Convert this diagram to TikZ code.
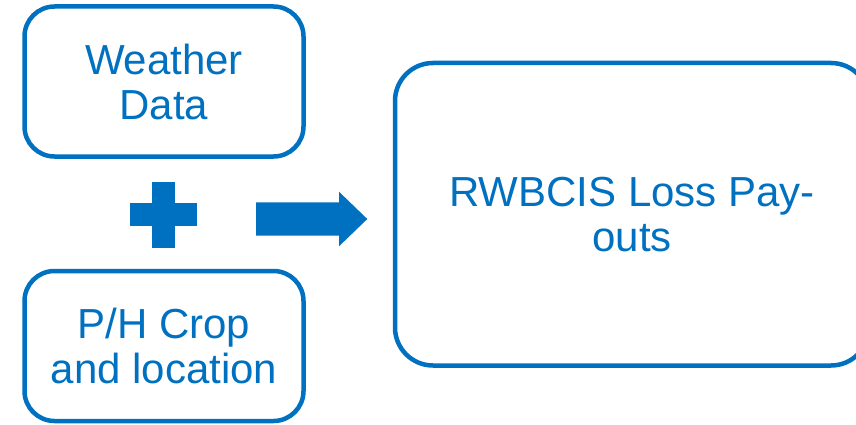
\documentclass[tikz,border=0pt]{standalone}
\usepackage{fontspec}
\setmainfont{Liberation Sans}
\usetikzlibrary{calc}
\definecolor{BoxBlue}{RGB}{0,112,192}

\begin{document}
\begin{tikzpicture}[x=1pt,y=-1pt,
  inputbox/.style={draw=BoxBlue,line width=4.5pt,rounded corners=30pt,
    minimum width=279pt,minimum height=150pt,align=center,text=BoxBlue,
    font=\fontsize{42}{45}\selectfont},
  resultbox/.style={inputbox,rounded corners=38pt,
    minimum width=474pt,minimum height=302.5pt}]

\useasboundingbox (0,0) rectangle (856,425);

\node[inputbox] (weather) at (164,81.5) {Weather\\Data};
\node[inputbox] (crop) at (164,346) {P/H Crop\\and location};
\node[resultbox] (payout) at (632,214.25) {RWBCIS Loss Pay-\\outs};

% Signo mas y flecha
\coordinate (P) at (163.7,214.5);
\fill[BoxBlue] ($(P)+(-11.3,-33)$) rectangle ($(P)+(11.3,33)$);
\fill[BoxBlue] ($(P)+(-33.5,-11.2)$) rectangle ($(P)+(33.5,11.2)$);

\coordinate (A) at (256,202.3);
\fill[BoxBlue] (A) -- ++(83,0) -- ++(0,-10.6) -- (367.3,219)
  -- (339,246.3) -- ++(0,-10.6) -- ++(-83,0) -- cycle;

\end{tikzpicture}
\end{document}
